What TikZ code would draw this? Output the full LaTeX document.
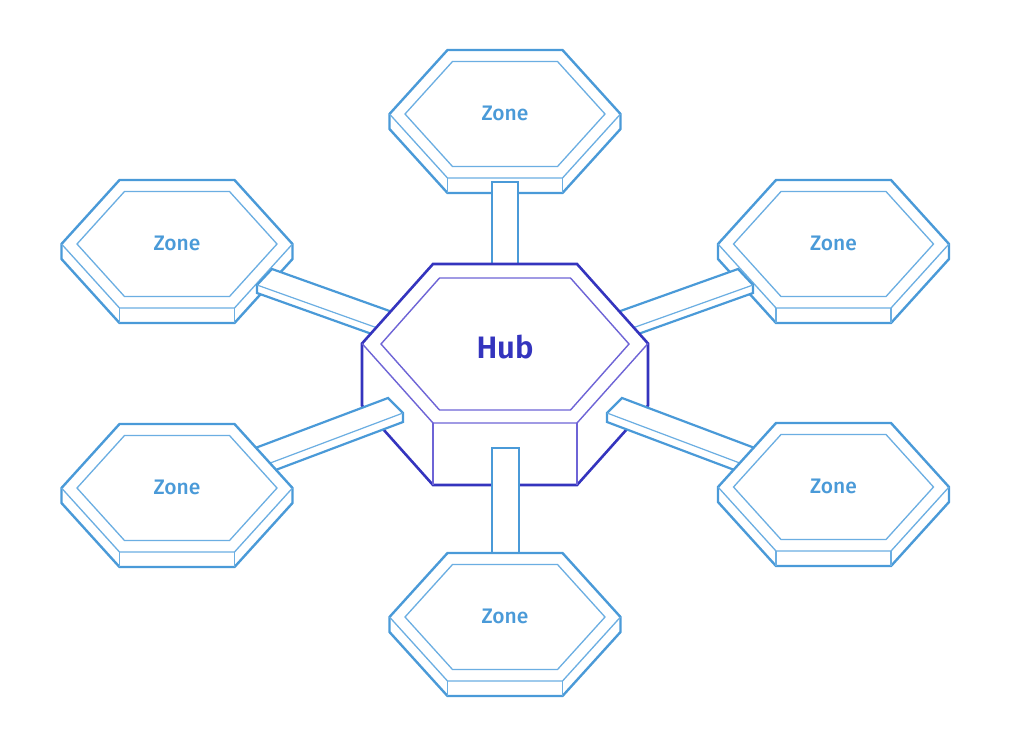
\documentclass[tikz,border=0pt]{standalone}
\usepackage{fontspec}
\setmainfont{Fira Sans}
\newfontfamily\zonefont{Fira Sans}[UprightFont=* Medium, BoldFont=* SemiBold]
\definecolor{zoneout}{HTML}{4A9AD8}
\definecolor{zonein}{HTML}{6BAEE2}
\definecolor{hubout}{HTML}{3434BE}
\definecolor{hubin}{HTML}{6E64D6}
\tikzset{
  zoneshape/.style={draw=zoneout, fill=white, line width=2.4pt, line join=miter},
  zoneinner/.style={draw=zonein, line width=1.3pt},
  barshape/.style={draw=zoneout, fill=white, line width=2.2pt, line join=miter},
  barinner/.style={draw=zonein, line width=1.2pt},
  hubshape/.style={draw=hubout, fill=white, line width=2.6pt, line join=miter},
  hubinner/.style={draw=hubin, line width=1.4pt},
  zonelabel/.style={anchor=base, text=zoneout, font=\zonefont\fontsize{21}{22}\selectfont, inner sep=0pt},
  hublabel/.style={anchor=base, text=hubout, font=\zonefont\bfseries\fontsize{31}{32}\selectfont, inner sep=0pt}
}
\newcommand\drawzone[3]{%
  \begin{scope}[shift={(#1,#2)}]
    \coordinate (#3) at (0,0);
    \path[zoneshape] (-115.5,0) -- (-57.5,-64) -- (57.5,-64) -- (115.5,0) -- (115.5,15) -- (57.5,79) -- (-57.5,79) -- (-115.5,15) -- cycle;
    \draw[zoneinner] (-115.5,0) -- (-57.5,64) -- (57.5,64) -- (115.5,0);
    \draw[zoneinner] (-57.5,64) -- (-57.5,79) (57.5,64) -- (57.5,79);
    \draw[zoneinner] (-100,0) -- (-52.5,-52.5) -- (52.5,-52.5) -- (100,0) -- (52.5,52.5) -- (-52.5,52.5) -- cycle;
    \node[zonelabel] (#3-label) at (0,6.5) {Zone};
  \end{scope}}
\begin{document}
\begin{tikzpicture}[x=1pt,y=-1pt]
\useasboundingbox (0,0) rectangle (1024,744);
% upper zones
\drawzone{505}{114}{ztop}
\drawzone{177}{244}{zul}
\drawzone{833.5}{244}{zur}
% upper bars
\path[barshape] (492,182) rectangle (518,300);
\path[barshape] (272,269) -- (257,285) -- (257,293) -- (397,343) -- (412,319) -- cycle;
\draw[barinner] (257,285) -- (397,335);
\path[barshape] (738,269) -- (753,285) -- (753,293) -- (613,343) -- (598,319) -- cycle;
\draw[barinner] (753,285) -- (613,335);
% hub
\coordinate (hub) at (505,343.5);
\path[hubshape] (362,343.5) -- (433,264) -- (577,264) -- (648,343.5) -- (648,405.5) -- (577,485) -- (433,485) -- (362,405.5) -- cycle;
\draw[hubinner] (362,343.5) -- (433,423) -- (577,423) -- (648,343.5);
\draw[hubinner] (433,423) -- (433,485) (577,423) -- (577,485);
\draw[hubinner] (381,344) -- (439.5,278) -- (570.5,278) -- (629,344) -- (570.5,410) -- (439.5,410) -- cycle;
\node[hublabel] (hub-label) at (505,358) {Hub};
% lower bars
\path[barshape] (492,448) rectangle (519,570);
\path[barshape] (388,398) -- (403,413) -- (403,422) -- (253,478.5) -- (238,454.5) -- cycle;
\draw[barinner] (403,413) -- (253,469.5);
\path[barshape] (622,398) -- (607,413) -- (607,422) -- (757,478.5) -- (772,454.5) -- cycle;
\draw[barinner] (607,413) -- (757,469.5);
% lower zones
\drawzone{177}{488}{zll}
\drawzone{833.5}{487}{zlr}
\drawzone{505}{617}{zbot}
\end{tikzpicture}
\end{document}
